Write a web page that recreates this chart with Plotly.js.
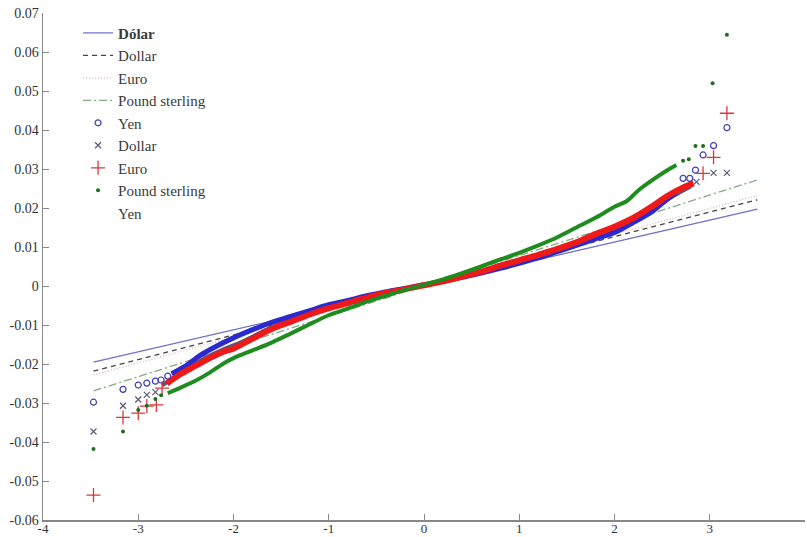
<!DOCTYPE html>
<html>
<head>
<meta charset="utf-8">
<script src="https://cdn.plot.ly/plotly-3.0.1.min.js"></script>
<style>html,body{margin:0;padding:0;background:#fff}#chart{width:807px;height:537px}</style>
</head>
<body>
<div id="chart"></div>
<script>
// Reference (fitted) lines: endpoints
var refLineX = [-3.47, 3.5];
var dolarLineY = [-0.0195, 0.0197];
var dollarLineY = [-0.0218, 0.0221];
var euroLineY = [-0.0228, 0.0232];
var poundLineY = [-0.0269, 0.0272];

// Yen (circles)
var yenBandX = [-2.65,-2.5,-2.35,-2.2,-2.0,-1.8,-1.6,-1.4,-1.2,-1.0,-0.8,-0.6,-0.4,-0.2,0,0.2,0.4,0.6,0.8,1.0,1.2,1.4,1.6,1.8,2.0,2.2,2.4,2.55,2.65];
var yenBandY = [-0.0225,-0.0205,-0.0178,-0.0157,-0.0133,-0.0112,-0.0093,-0.0078,-0.0063,-0.0048,-0.0037,-0.0025,-0.0015,-0.0006,0.0003,0.0012,0.0022,0.0033,0.0045,0.0058,0.0072,0.0088,0.0104,0.0121,0.0137,0.0163,0.0192,0.0222,0.0240];
var yenTailX = [-3.47,-3.16,-3.0,-2.91,-2.82,-2.76,-2.69,2.72,2.79,2.85,2.93,3.04,3.18];
var yenTailY = [-0.0298,-0.0265,-0.0254,-0.0249,-0.0244,-0.0241,-0.0231,0.0276,0.0276,0.0297,0.0336,0.0360,0.0406];

// Dollar (crosses)
var dollarBandX = [-2.75,-2.5,-2.3,-2.1,-1.9,-1.6,-1.3,-1.0,-0.7,-0.4,-0.1,0.2,0.5,0.8,1.1,1.4,1.7,2.0,2.3,2.6,2.8];
var dollarBandY = [-0.0255,-0.0215,-0.0185,-0.0162,-0.0142,-0.0106,-0.0078,-0.0054,-0.0034,-0.0017,-0.0003,0.0012,0.0028,0.0048,0.0068,0.0091,0.0118,0.0146,0.0180,0.0228,0.0255];
var dollarTailX = [-3.47,-3.16,-3.0,-2.91,-2.82,2.86,3.04,3.18];
var dollarTailY = [-0.0373,-0.0307,-0.0291,-0.0279,-0.0272,0.0267,0.0290,0.0290];

// Euro (plus)
var euroBandX = [-2.7,-2.55,-2.4,-2.25,-2.1,-2.0,-1.8,-1.6,-1.4,-1.2,-1.0,-0.8,-0.6,-0.4,-0.2,0,0.2,0.4,0.6,0.8,1.0,1.2,1.4,1.6,1.8,2.0,2.2,2.4,2.55,2.7,2.83];
var euroBandY = [-0.0250,-0.0225,-0.0205,-0.0185,-0.0168,-0.0160,-0.0135,-0.0110,-0.0092,-0.0073,-0.0057,-0.0043,-0.0030,-0.0018,-0.0008,0.0002,0.0012,0.0024,0.0037,0.0052,0.0066,0.0080,0.0095,0.0112,0.0133,0.0152,0.0175,0.0205,0.0230,0.0250,0.0263];
var euroTailX = [-3.47,-3.16,-3.0,-2.91,-2.81,-2.75,2.93,3.04,3.18];
var euroTailY = [-0.0536,-0.0337,-0.0326,-0.0308,-0.0305,-0.0262,0.0289,0.0330,0.0443];

// Pound sterling (dots)
var poundBandX = [-2.69,-2.55,-2.4,-2.25,-2.1,-2.0,-1.8,-1.6,-1.4,-1.2,-1.0,-0.8,-0.6,-0.4,-0.2,0,0.2,0.4,0.6,0.8,1.0,1.2,1.4,1.6,1.8,2.0,2.13,2.25,2.4,2.55,2.65];
var poundBandY = [-0.0275,-0.0260,-0.0243,-0.0222,-0.0198,-0.0185,-0.0165,-0.0145,-0.0122,-0.0098,-0.0075,-0.0058,-0.0040,-0.0025,-0.0010,0.0003,0.0017,0.0033,0.0050,0.0068,0.0085,0.0104,0.0125,0.0150,0.0175,0.0203,0.0218,0.0245,0.0272,0.0296,0.0310];
var poundTailX = [-3.47,-3.16,-3.0,-2.91,-2.82,-2.76,2.72,2.78,2.85,2.93,3.03,3.18];
var poundTailY = [-0.0418,-0.0373,-0.0318,-0.0307,-0.0290,-0.0280,0.0321,0.0325,0.0359,0.0359,0.0520,0.0644];

// Axis ticks
var xTickVals = [-4,-3,-2,-1,0,1,2,3,4];
var xTickText = ["-4","-3","-2","-1","0","1","2","3","4"];
var yTickVals = [-0.06,-0.05,-0.04,-0.03,-0.02,-0.01,0,0.01,0.02,0.03,0.04,0.05,0.06,0.07];
var yTickText = ["-0.06","-0.05","-0.04","-0.03","-0.02","-0.01","0","0.01","0.02","0.03","0.04","0.05","0.06","0.07"];

var C = {
  yen: "#3d3db8", yenBand: "#2a2ad0",
  dollar: "#5a5a70", dollarBand: "#55557a",
  euro: "#d83838", euroBand: "#ee1a1a",
  pound: "#1d6e1d", poundBand: "#1e8c1e"
};

var traces = [
  {x: refLineX, y: dolarLineY, mode: "lines", name: "<b>Dólar</b>", line: {color: "#7070c8", width: 1.3}},
  {x: refLineX, y: dollarLineY, mode: "lines", name: "Dollar", line: {color: "#444444", width: 1.3, dash: "5px,4px"}},
  {x: refLineX, y: euroLineY, mode: "lines", name: "Euro", line: {color: "#d8b4b8", width: 1.3, dash: "1px,2px"}},
  {x: refLineX, y: poundLineY, mode: "lines", name: "Pound sterling", line: {color: "#80ac80", width: 1.3, dash: "8px,3px,2px,3px"}},

  {x: dollarBandX, y: dollarBandY, mode: "lines", showlegend: false, hoverinfo: "skip", line: {color: C.dollarBand, width: 4, shape: "spline"}},
  {x: yenBandX, y: yenBandY, mode: "lines", showlegend: false, hoverinfo: "skip", line: {color: C.yenBand, width: 5, shape: "spline"}},
  {x: euroBandX, y: euroBandY, mode: "lines", showlegend: false, hoverinfo: "skip", line: {color: C.euroBand, width: 6, shape: "spline"}},
  {x: poundBandX, y: poundBandY, mode: "lines", showlegend: false, hoverinfo: "skip", line: {color: C.poundBand, width: 4, shape: "spline"}},

  {x: yenTailX, y: yenTailY, mode: "markers", name: "Yen", marker: {symbol: "circle-open", size: 6, color: C.yen, line: {width: 1.2, color: C.yen}}},
  {x: dollarTailX, y: dollarTailY, mode: "markers", name: "Dollar", marker: {symbol: "x-thin-open", size: 6, color: C.dollar, line: {width: 1.2, color: C.dollar}}},
  {x: euroTailX, y: euroTailY, mode: "markers", name: "Euro", marker: {symbol: "cross-thin-open", size: 10, color: C.euro, line: {width: 1.3, color: C.euro}}},
  {x: poundTailX, y: poundTailY, mode: "markers", name: "Pound sterling", marker: {symbol: "circle", size: 4, color: C.pound}},
  {x: [null], y: [null], mode: "lines", name: "Yen", line: {color: "rgba(0,0,0,0)", width: 1}}
];

var layout = {
  width: 807, height: 537,
  margin: {l: 43, r: 2, t: 13, b: 17, pad: 0},
  paper_bgcolor: "#ffffff", plot_bgcolor: "#ffffff",
  font: {family: "Liberation Serif, Times New Roman, serif", size: 14, color: "#333333"},
  showlegend: true,
  legend: {
    x: 0.046, y: 0.993, xanchor: "left", yanchor: "top",
    bgcolor: "rgba(255,255,255,0)", borderwidth: 0,
    font: {family: "Liberation Serif, Times New Roman, serif", size: 15, color: "#3a3a3a"},
    traceorder: "normal"
  },
  xaxis: {
    range: [-4, 4], tickvals: xTickVals, ticktext: xTickText,
    ticks: "inside", ticklen: 6, tickcolor: "#888888", tickwidth: 1,
    showline: true, linecolor: "#888888", linewidth: 1.5,
    showgrid: false, zeroline: false, ticklabelstandoff: -4,
    tickfont: {family: "Liberation Serif, Times New Roman, serif", size: 13, color: "#333333"}
  },
  yaxis: {
    range: [-0.06, 0.07], tickvals: yTickVals, ticktext: yTickText,
    ticks: "inside", ticklen: 6, tickcolor: "#888888", tickwidth: 1,
    showline: true, linecolor: "#888888", linewidth: 1.5,
    showgrid: false, zeroline: false,
    tickfont: {family: "Liberation Serif, Times New Roman, serif", size: 14, color: "#333333"}
  }
};

Plotly.newPlot("chart", traces, layout, {displayModeBar: false, staticPlot: true});
</script>
</body>
</html>
